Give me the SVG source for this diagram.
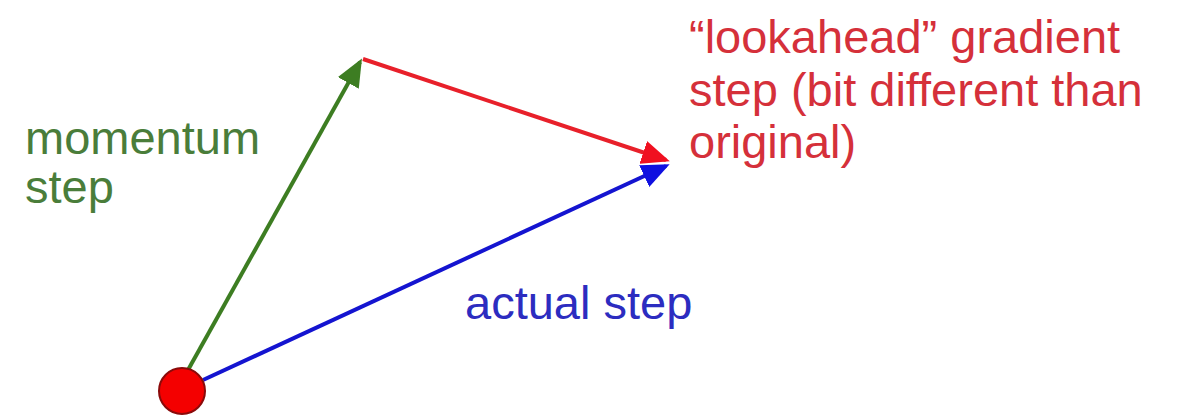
<svg xmlns="http://www.w3.org/2000/svg" width="1177" height="417" viewBox="0 0 1177 417">
<style>
text{font-family:"Liberation Sans",Arial,sans-serif;font-size:47px}
.g{fill:#4a7d3a}.r{fill:#d5303a}.b{fill:#2c2cc0}
</style>
<defs>
<marker id="ag" markerWidth="7" markerHeight="6" refX="6" refY="3" orient="auto" markerUnits="strokeWidth"><path d="M0,0L7,3L0,6z" fill="#3d7d22"/></marker>
<marker id="ar" markerWidth="7" markerHeight="6" refX="6" refY="3" orient="auto" markerUnits="strokeWidth"><path d="M0,0L7,3L0,6z" fill="#f01020"/></marker>
<marker id="ab" markerWidth="7" markerHeight="6" refX="6" refY="3" orient="auto" markerUnits="strokeWidth"><path d="M0,0L7,3L0,6z" fill="#1010e0"/></marker>
</defs>
<rect width="1177" height="417" fill="#fff"/>
<g id="connectors" fill="none" stroke-width="4">
<line x1="188" y1="370" x2="360" y2="62" stroke="#3d7d22" marker-end="url(#ag)"/>
<line x1="363" y1="59" x2="666" y2="160" stroke="#e8202a" marker-end="url(#ar)"/>
<line x1="203" y1="380" x2="666" y2="166" stroke="#1414d0" marker-end="url(#ab)"/>
</g>
<g id="start">
<circle cx="182" cy="391" r="23" fill="#f40000" stroke="#8a0a0a" stroke-width="2"/>
</g>
<g id="momentum-label">
<text class="g" x="25" y="154">momentum</text>
<text class="g" x="25" y="203">step</text>
</g>
<g id="lookahead-label">
<text class="r" x="689" y="53">“lookahead” gradient</text>
<text class="r" x="689" y="106">step (bit different than</text>
<text class="r" x="689" y="158">original)</text>
</g>
<g id="actual-label">
<text class="b" x="465" y="319">actual step</text>
</g>
</svg>
